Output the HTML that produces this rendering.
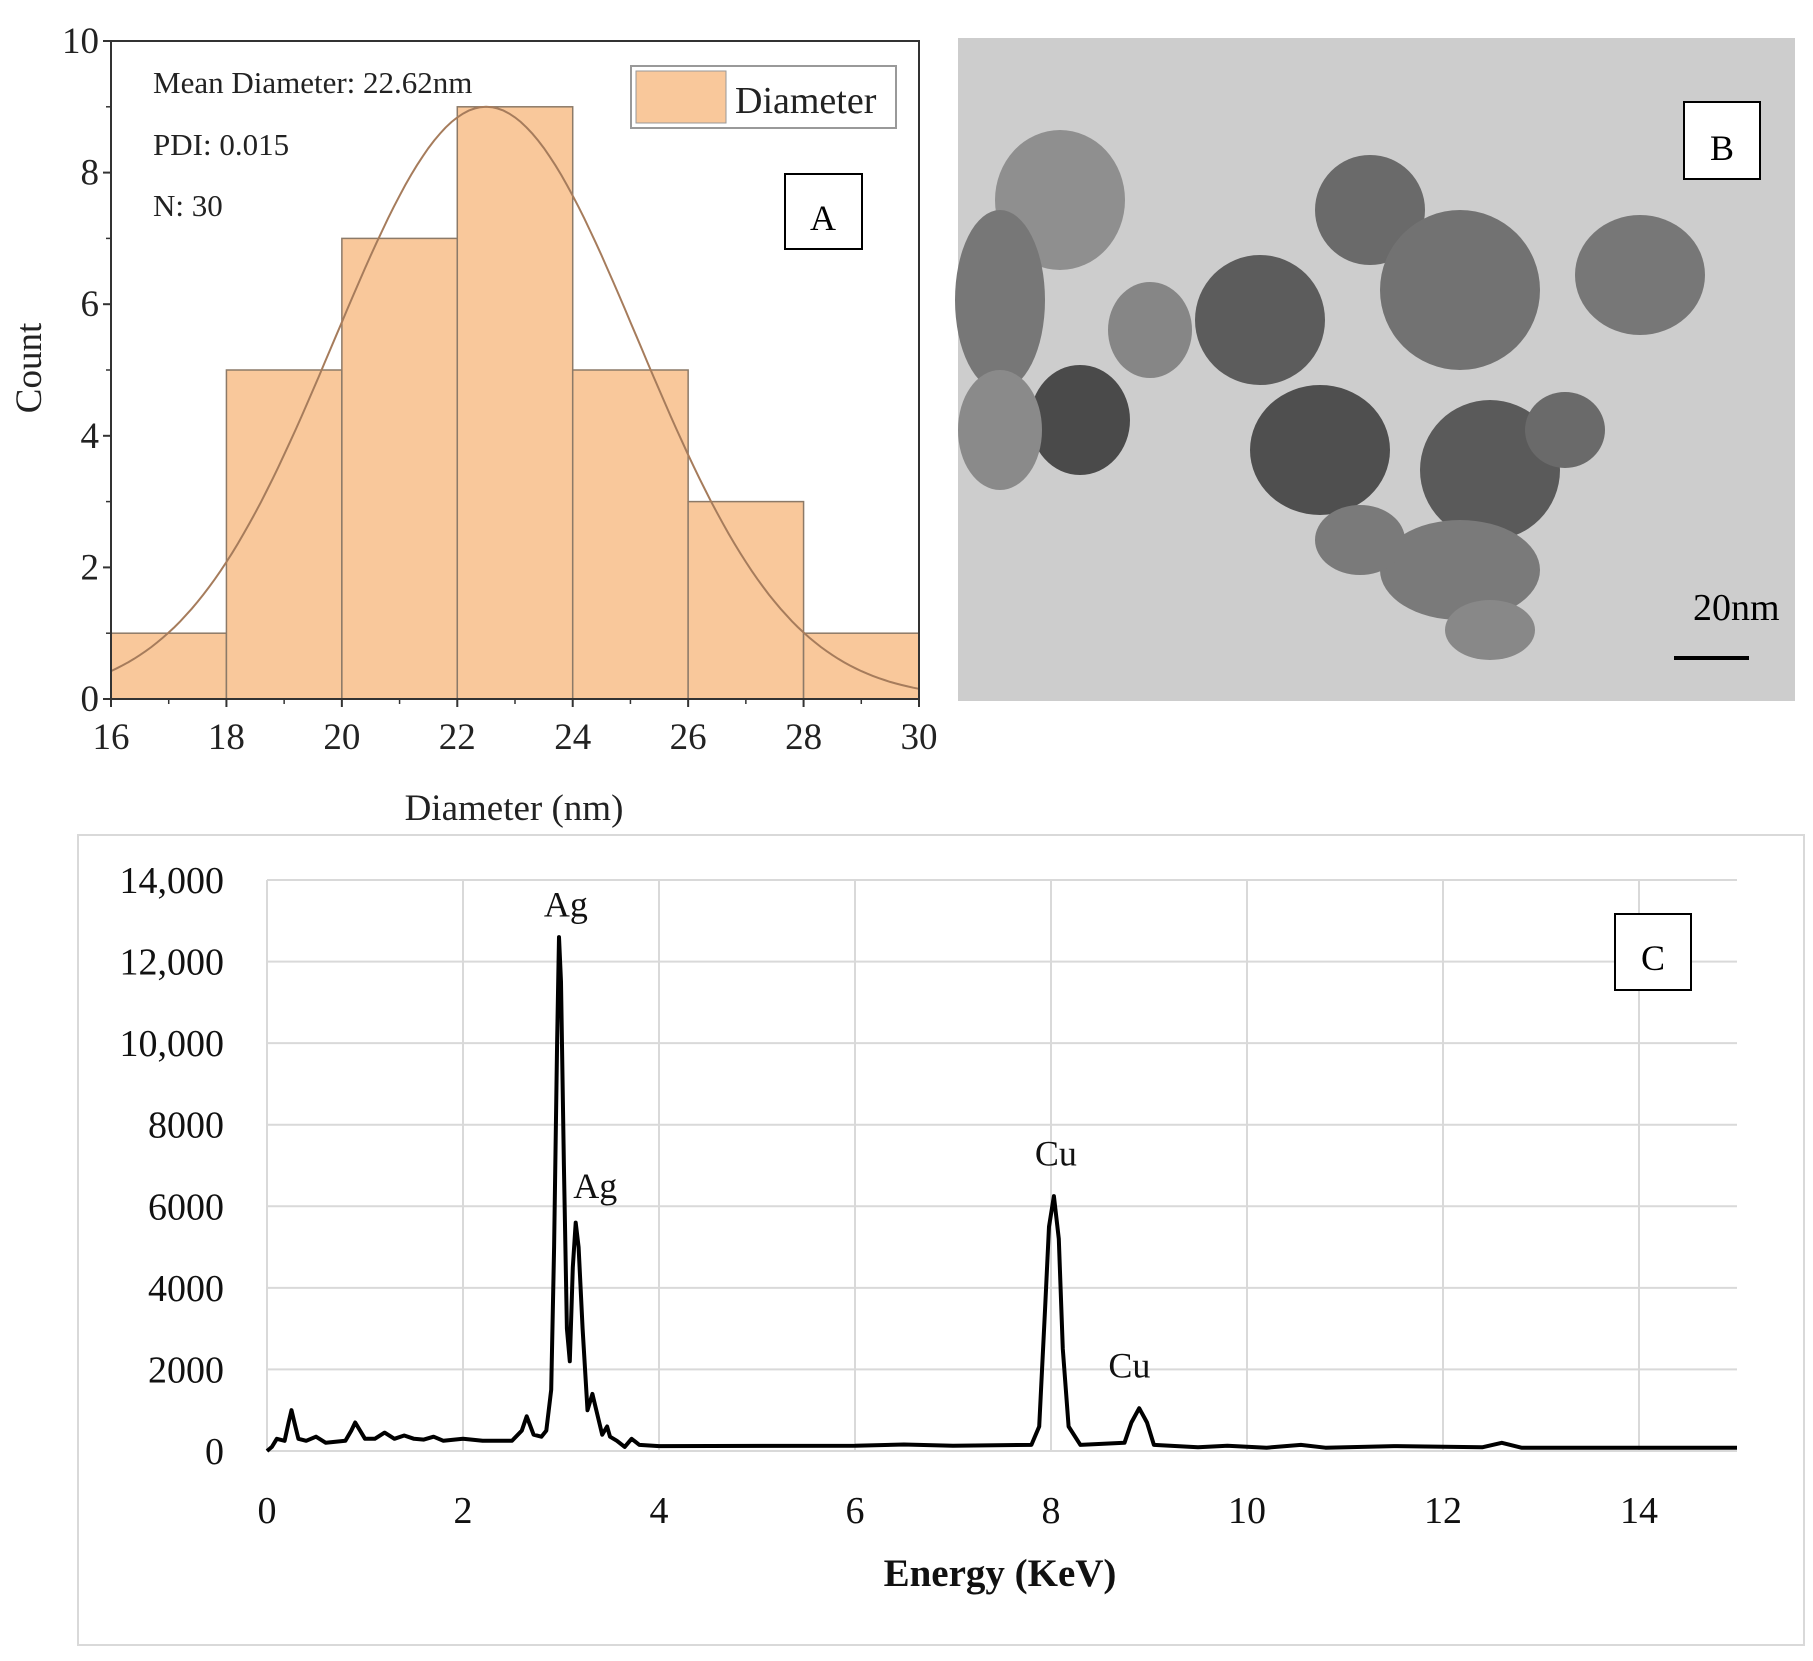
<!DOCTYPE html>
<html><head><meta charset="utf-8"><style>
body{margin:0;background:#fff;}
svg{display:block;font-family:"Liberation Serif",serif;}
</style></head><body>
<svg width="1813" height="1661" viewBox="0 0 1813 1661">
<g id="pa"></g>
<g id="pb">
  <rect x="958" y="38" width="837" height="663" fill="#cdcdcd"/>
  <g>
    <ellipse cx="1060" cy="200" rx="65" ry="70" fill="#8f8f8f"/>
    <ellipse cx="1000" cy="300" rx="45" ry="90" fill="#777"/>
    <ellipse cx="1080" cy="420" rx="50" ry="55" fill="#4a4a4a"/>
    <ellipse cx="1000" cy="430" rx="42" ry="60" fill="#8a8a8a"/>
    <ellipse cx="1150" cy="330" rx="42" ry="48" fill="#868686"/>
    <ellipse cx="1260" cy="320" rx="65" ry="65" fill="#5c5c5c"/>
    <ellipse cx="1370" cy="210" rx="55" ry="55" fill="#6a6a6a"/>
    <ellipse cx="1460" cy="290" rx="80" ry="80" fill="#727272"/>
    <ellipse cx="1640" cy="275" rx="65" ry="60" fill="#777"/>
    <ellipse cx="1320" cy="450" rx="70" ry="65" fill="#4f4f4f"/>
    <ellipse cx="1490" cy="470" rx="70" ry="70" fill="#5a5a5a"/>
    <ellipse cx="1460" cy="570" rx="80" ry="50" fill="#7a7a7a"/>
    <ellipse cx="1360" cy="540" rx="45" ry="35" fill="#7a7a7a"/>
    <ellipse cx="1565" cy="430" rx="40" ry="38" fill="#6a6a6a"/>
    <ellipse cx="1490" cy="630" rx="45" ry="30" fill="#888"/>
  </g>
  <rect x="1684" y="102" width="76" height="77" fill="#fff" stroke="#000" stroke-width="2"/>
  <text x="1722" y="160" font-size="36" text-anchor="middle">B</text>
  <text x="1693" y="620" font-size="38">20nm</text>
  <line x1="1674" y1="658" x2="1749" y2="658" stroke="#000" stroke-width="4"/>
</g>
<g id="pc"></g>
</svg>
<script>
const NS="http://www.w3.org/2000/svg";
function mk(p,t,a,txt){const e=document.createElementNS(NS,t);for(const k in a)e.setAttribute(k,a[k]);if(txt!==undefined)e.textContent=txt;p.appendChild(e);return e;}

// ---- Panel A data
const binEdges=[16,18,20,22,24,26,28,30];
const binCounts=[1,5,7,9,5,3,1];
const xTicksA=[16,18,20,22,24,26,28,30];
const yTicksA=[0,2,4,6,8,10];
const fitMean=[22.5];
const fitSigma=[2.63];
const fitPeak=[9];

const pa=document.getElementById('pa');
const AX0=111,AX1=919,AY0=699,AY1=41;
const ax=v=>AX0+(v-16)/(30-16)*(AX1-AX0);
const ay=v=>AY0-v/10*(AY0-AY1);
for(let i=0;i<binCounts.length;i++){
  const r=mk(pa,'rect',{x:ax(binEdges[i]),y:ay(binCounts[i]),width:ax(binEdges[i+1])-ax(binEdges[i]),height:ay(0)-ay(binCounts[i]),fill:'#f9c89b',stroke:'#8c7a68','stroke-width':1.5});
  
  
}
let d='';
for(let x=16;x<=30.001;x+=0.1){const y=fitPeak[0]*Math.exp(-Math.pow(x-fitMean[0],2)/(2*fitSigma[0]*fitSigma[0]));d+=(d?'L':'M')+ax(x).toFixed(1)+','+ay(y).toFixed(1);}
const fc=mk(pa,'path',{d:d,fill:'none',stroke:'#a67c5c','stroke-width':2});


const fr=mk(pa,'rect',{x:AX0,y:AY1,width:AX1-AX0,height:AY0-AY1,fill:'none',stroke:'#333','stroke-width':2});


xTicksA.forEach(v=>{mk(pa,'line',{x1:ax(v),y1:AY0,x2:ax(v),y2:AY0+8,stroke:'#333','stroke-width':2});
  const t=mk(pa,'text',{x:ax(v),y:AY0+50,'font-size':37,'text-anchor':'middle',fill:'#222'},v);
  
  
  if(v<30)mk(pa,'line',{x1:ax(v+1),y1:AY0,x2:ax(v+1),y2:AY0+5,stroke:'#333','stroke-width':1.5});});
yTicksA.forEach(v=>{mk(pa,'line',{x1:AX0-8,y1:ay(v),x2:AX0,y2:ay(v),stroke:'#333','stroke-width':2});
  const t=mk(pa,'text',{x:AX0-12,y:ay(v)+12,'font-size':37,'text-anchor':'end',fill:'#222'},v);
  
  
  if(v<10)mk(pa,'line',{x1:AX0-5,y1:ay(v+1),x2:AX0,y2:ay(v+1),stroke:'#333','stroke-width':1.5});});
let t=mk(pa,'text',{x:514,y:820,'font-size':37,'text-anchor':'middle',fill:'#222'},'Diameter (nm)');

t=mk(pa,'text',{x:0,y:0,'font-size':37,'text-anchor':'middle',fill:'#222',transform:'translate(41,368) rotate(-90)'},'Count');

[['Mean Diameter: 22.62nm',93],['PDI: 0.015',155],['N: 30',216]].forEach(s=>{const e=mk(pa,'text',{x:153,y:s[1],'font-size':31,fill:'#222'},s[0]);
 
 });
let lg=mk(pa,'rect',{x:631,y:66,width:265,height:62,fill:'#fff',stroke:'#999','stroke-width':2});

mk(pa,'rect',{x:636,y:71,width:90,height:52,fill:'#f9c89b',stroke:'#999'});
t=mk(pa,'text',{x:735,y:113,'font-size':38,fill:'#222'},'Diameter');

lg=mk(pa,'rect',{x:785,y:174,width:77,height:75,fill:'#fff',stroke:'#000','stroke-width':2});

mk(pa,'text',{x:823,y:230,'font-size':36,'text-anchor':'middle'},'A');

// ---- Panel C data
const energy=[0,0.05,0.1,0.18,0.22,0.25,0.28,0.32,0.4,0.5,0.6,0.8,0.86,0.9,0.95,1.0,1.1,1.2,1.3,1.4,1.5,1.6,1.7,1.8,2.0,2.2,2.5,2.6,2.65,2.72,2.8,2.85,2.9,2.93,2.96,2.98,3.0,3.03,3.06,3.09,3.12,3.15,3.18,3.22,3.27,3.32,3.36,3.42,3.47,3.5,3.57,3.65,3.72,3.8,4,6,6.5,7,7.8,7.88,7.94,7.98,8.03,8.08,8.12,8.18,8.3,8.75,8.82,8.9,8.98,9.05,9.5,9.8,10.2,10.55,10.8,11.5,12.4,12.6,12.8,15];
const counts=[0,100,300,250,700,1000,700,300,250,350,200,250,500,700,500,300,300,450,300,380,300,280,350,250,300,250,250,500,850,400,350,500,1500,5000,10000,12600,11500,7000,3000,2200,4500,5600,5000,3000,1000,1400,1000,400,600,350,250,100,300,150,120,130,160,130,150,600,3500,5500,6250,5200,2500,600,150,200,700,1050,700,150,90,130,80,150,80,120,90,200,80,80];
const xTicksC=[0,2,4,6,8,10,12,14];
const yTicksC=[0,2000,4000,6000,8000,10000,12000,14000];
const yTickLabelsC=['0','2000','4000','6000','8000','10,000','12,000','14,000'];
const peakLabels=['Ag','Ag','Cu','Cu'];
const peakE=[3.05,3.35,8.05,8.8];
const peakY=[13100,6200,7000,1800];

const pc=document.getElementById('pc');
const b=mk(pc,'rect',{x:78,y:835,width:1726,height:810,fill:'#fff',stroke:'#d9d9d9','stroke-width':2});

const CX0=267,CX1=1737,CY0=1451,CY1=880;
const cx=v=>CX0+v/15*(CX1-CX0);
const cy=v=>CY0-v/14000*(CY0-CY1);
yTicksC.forEach((v,i)=>{const g=mk(pc,'line',{x1:CX0,y1:cy(v),x2:CX1,y2:cy(v),stroke:'#d9d9d9','stroke-width':2});
 
 const e=mk(pc,'text',{x:224,y:cy(v)+13,'font-size':38,'text-anchor':'end',fill:'#111'},yTickLabelsC[i]);
 });
xTicksC.forEach(v=>{const g=mk(pc,'line',{x1:cx(v),y1:CY1,x2:cx(v),y2:CY0,stroke:'#d9d9d9','stroke-width':2});
 
 const e=mk(pc,'text',{x:cx(v),y:1523,'font-size':38,'text-anchor':'middle',fill:'#111'},v);
 });
let dc='';energy.forEach((e,i)=>{dc+=(i?'L':'M')+cx(e).toFixed(1)+','+cy(counts[i]).toFixed(1);});
const sp=mk(pc,'path',{d:dc,fill:'none',stroke:'#000','stroke-width':4,'stroke-linejoin':'round'});

peakLabels.forEach((l,i)=>{const e=mk(pc,'text',{x:cx(peakE[i]),y:cy(peakY[i]),'font-size':36,'text-anchor':'middle',fill:'#111'},l);
 });
t=mk(pc,'text',{x:1000,y:1586,'font-size':39,'font-weight':'bold','text-anchor':'middle',fill:'#111'},'Energy (KeV)');

lg=mk(pc,'rect',{x:1615,y:914,width:76,height:76,fill:'#fff',stroke:'#000','stroke-width':2});

mk(pc,'text',{x:1653,y:970,'font-size':36,'text-anchor':'middle'},'C');
</script>
</body></html>
